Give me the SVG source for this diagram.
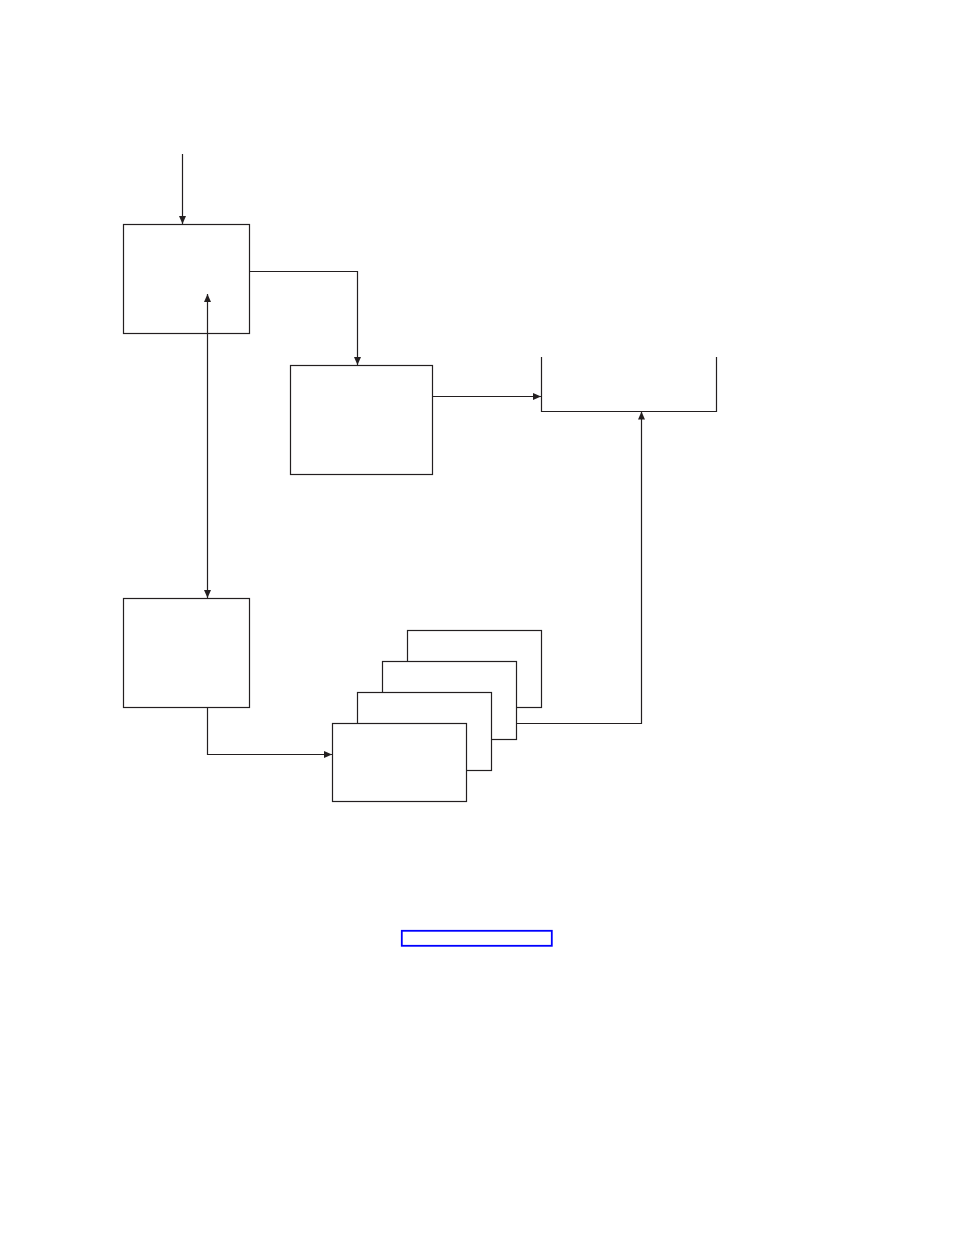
<svg xmlns="http://www.w3.org/2000/svg" width="954" height="1235" viewBox="0 0 954 1235">
<style>
.box{fill:#fff;stroke:#231f20;stroke-width:1.2}
.open{fill:none;stroke:#231f20;stroke-width:1.2}
.wire{fill:none;stroke:#231f20;stroke-width:1.2}
</style>
<defs>
<marker id="ah" viewBox="0 0 8 8" refX="8" refY="4" markerWidth="8" markerHeight="8" markerUnits="userSpaceOnUse" orient="auto-start-reverse">
<path d="M0,0.5 L8,4 L0,7.5 Z" fill="#231f20"/>
</marker>
</defs>
<rect width="954" height="1235" fill="#fff"/>
<g id="nodeA"><rect class="box" x="123.5" y="224.5" width="126" height="109"/></g>
<g id="nodeB"><rect class="box" x="290.5" y="365.5" width="142" height="109"/></g>
<g id="nodeC"><rect class="box" x="123.5" y="598.5" width="126" height="109"/></g>
<g id="nodeD"><path class="open" d="M541.5,357 V411.5 H716.5 V357"/></g>
<g id="stack">
<rect class="box" x="407.5" y="630.5" width="134" height="77"/>
<rect class="box" x="382.5" y="661.5" width="134" height="78"/>
<rect class="box" x="357.5" y="692.5" width="134" height="78"/>
<rect class="box" x="332.5" y="723.5" width="134" height="78"/>
</g>
<g id="connectors">
<path class="wire" d="M182.5,154 V224" marker-end="url(#ah)"/>
<path class="wire" d="M249.5,271.5 H357.5 V365" marker-end="url(#ah)"/>
<path class="wire" d="M207.5,294 V598" marker-start="url(#ah)" marker-end="url(#ah)"/>
<path class="wire" d="M432.5,396.5 H541" marker-end="url(#ah)"/>
<path class="wire" d="M207.5,707.5 V754.5 H332" marker-end="url(#ah)"/>
<path class="wire" d="M516.5,723.5 H641.5 V411.5" marker-end="url(#ah)"/>
</g>
<rect x="401.8" y="930.8" width="150" height="15" fill="none" stroke="#0000ff" stroke-width="1.8"/>
</svg>
